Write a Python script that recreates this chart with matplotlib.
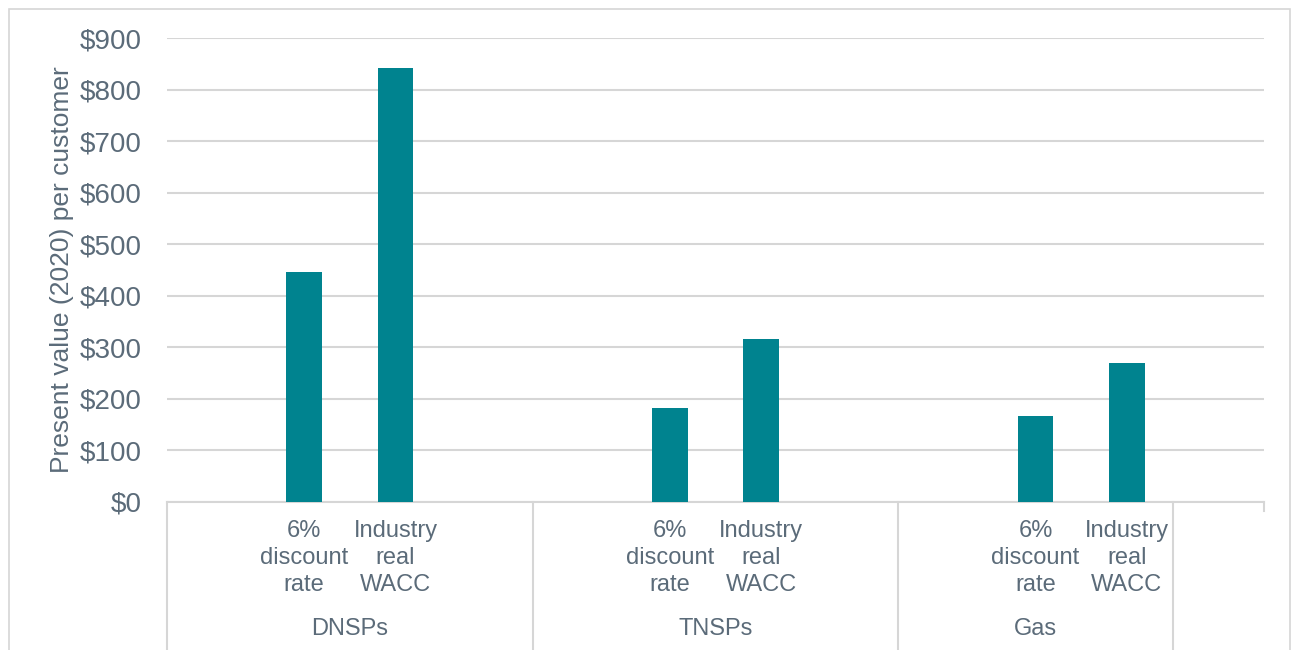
import numpy as np
import matplotlib.pyplot as plt
from matplotlib.patches import Rectangle
from matplotlib.transforms import blended_transform_factory

plt.rcParams['font.family'] = ['Liberation Sans', 'DejaVu Sans']

# data
groups = ['DNSPs', 'TNSPs', 'Gas']
group_slots = [4, 4, 3]          # category slots per group (outer ones blank)
bar_labels = ['6%\ndiscount\nrate', 'Industry\nreal\nWACC']
values = {
    'DNSPs': [446, 842],
    'TNSPs': [182, 316],
    'Gas': [167, 270],
}
yticks = np.arange(0, 901, 100)

bar_color = '#00838F'
text_color = '#5B6B79'
grid_color = '#D6D6D6'

W, H = 1292, 650
fig = plt.figure(figsize=(W / 100, H / 100), dpi=100)
ax = fig.add_axes([167 / W, 1 - 502 / H, (1264 - 167) / W, (502 - 38) / H])

n_slots = sum(group_slots) + 1
xs, hs, labels = [], [], []
start = 0
bounds = [start]
for g, n in zip(groups, group_slots):
    for i, v in enumerate(values[g]):
        xs.append(start + 1 + i)
        hs.append(v)
        labels.append(bar_labels[i])
    start += n
    bounds.append(start)

ax.bar(xs, hs, width=0.39, color=bar_color, zorder=3)
ax.set_xlim(-0.5, n_slots - 0.5)
ax.set_ylim(0, 900)
ax.set_yticks(yticks)
ax.set_yticklabels([f'${v}' for v in yticks])
ax.yaxis.grid(True, color=grid_color, lw=1.5, zorder=0)
ax.set_axisbelow(True)
for s in ['top', 'right', 'left']:
    ax.spines[s].set_visible(False)
ax.spines['bottom'].set_color(grid_color)
ax.spines['bottom'].set_linewidth(1.5)
ax.tick_params(axis='y', length=0, pad=18, labelsize=20, labelcolor=text_color)

ax.set_xticks(xs)
ax.set_xticklabels(labels, fontsize=17, color=text_color, linespacing=1.3)
ax.tick_params(axis='x', length=0, pad=13)

trans = blended_transform_factory(ax.transData, ax.transAxes)
drop = (650 - 502) / (502 - 38)
for b in bounds:
    ax.plot([b - 0.5, b - 0.5], [0, -drop], transform=trans, color=grid_color,
            lw=1.5, clip_on=False)
ax.plot([n_slots - 0.5] * 2, [0, -0.02], transform=trans, color=grid_color,
        lw=1.5, clip_on=False)

for g, a, b in zip(groups, bounds[:-1], bounds[1:]):
    ax.text((a + b) / 2 - 0.5, -(629 - 502) / (502 - 38), g, transform=trans,
            ha='center', va='center', fontsize=17, color=text_color)

fig.text(62 / W, 1 - 270 / H, 'Present value (2020) per customer', rotation=90,
         ha='center', va='center', fontsize=19, color=text_color)

fig.patches.append(Rectangle((9 / W, -0.1), (1290 - 9) / W, 1.1 - 9 / H,
                             transform=fig.transFigure, fill=False,
                             edgecolor=grid_color, lw=1.2))

fig.savefig('out.png', dpi=100, facecolor='white')
